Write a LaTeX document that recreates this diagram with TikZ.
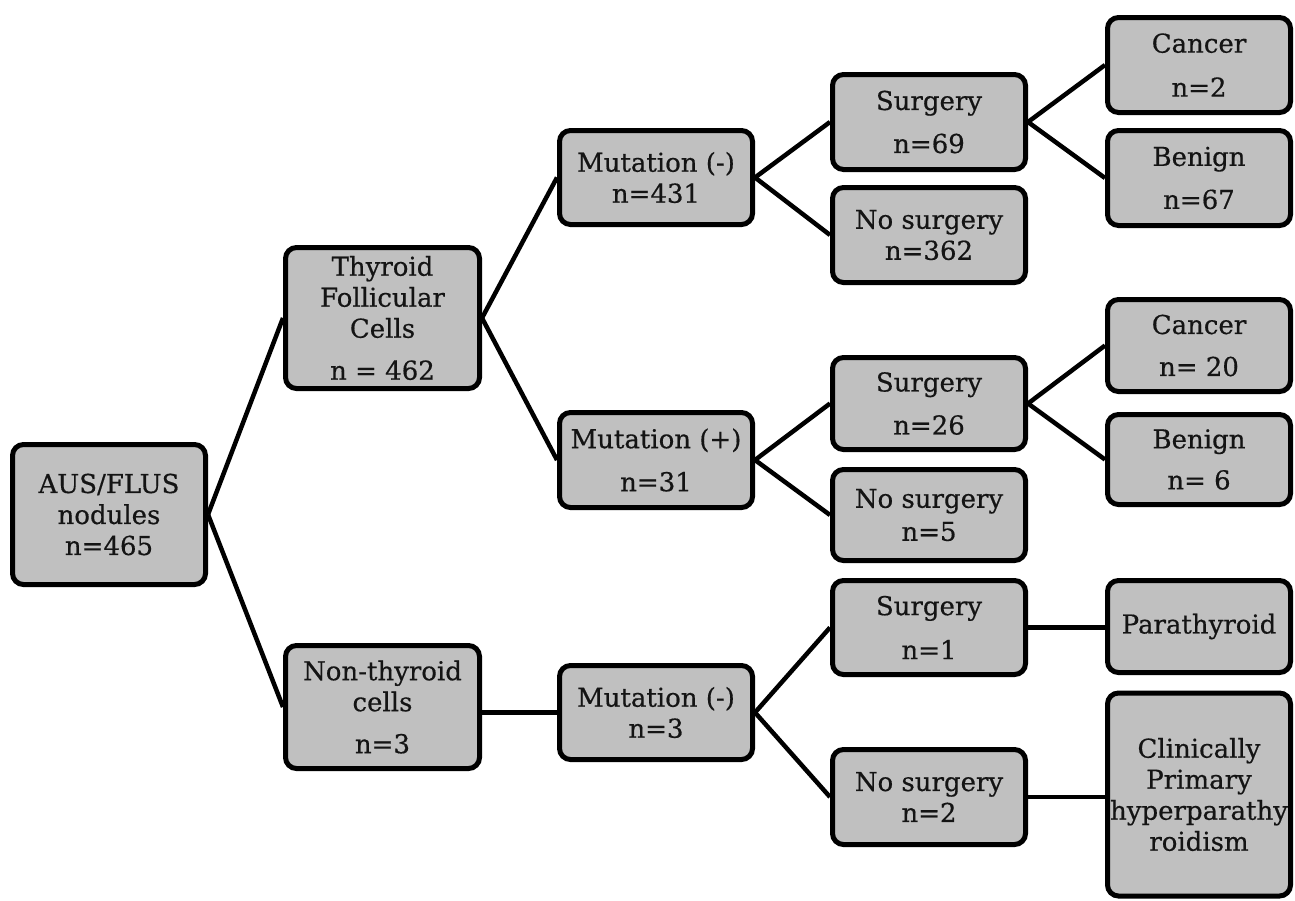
\documentclass[tikz,border=0pt]{standalone}
\usepackage{fontspec}
\setmainfont{DejaVu Serif}
\newfontfamily\boxfont{DejaVu Serif}[FakeBold=0.5]
\definecolor{boxgray}{RGB}{192,192,192}
\definecolor{txt}{RGB}{20,20,20}
\begin{document}
\begin{tikzpicture}[x=1pt,y=-1pt,
  box/.style={draw=black, fill=boxgray, line width=5pt, rounded corners=11pt,
    align=center, inner sep=1pt, text=txt,
    font=\boxfont\fontsize{26}{31}\selectfont},
  link/.style={line width=4.5pt, draw=black}]
\useasboundingbox (0,0) rectangle (1295,900);
% column 1
\node[box, minimum width=193pt, minimum height=140pt] (aus) at (109,514.5) {AUS/FLUS\\nodules\\n=465};
% column 2
\node[box, minimum width=194pt, minimum height=141pt] (th) at (382.5,318) {Thyroid\\Follicular\\Cells\\[11pt]n = 462};
\node[box, minimum width=194pt, minimum height=123pt] (nt) at (382.5,707) {Non-thyroid\\cells\\[11pt]n=3};
% column 3
\node[box, minimum width=193pt, minimum height=94pt] (m1) at (656,177.5) {Mutation (-)\\n=431};
\node[box, minimum width=193pt, minimum height=95pt] (m2) at (656,460) {Mutation (+)\\[12pt]n=31};
\node[box, minimum width=193pt, minimum height=94pt] (m3) at (656,712.5) {Mutation (-)\\n=3};
% column 4
\node[box, minimum width=193pt, minimum height=95pt] (s1) at (929,122) {Surgery\\[12pt]n=69};
\node[box, minimum width=193pt, minimum height=95pt] (ns1) at (929,235) {No surgery\\n=362};
\node[box, minimum width=193pt, minimum height=92pt] (s2) at (929,403.5) {Surgery\\[12pt]n=26};
\node[box, minimum width=193pt, minimum height=91pt] (ns2) at (929,515) {No surgery\\[2pt]n=5};
\node[box, minimum width=193pt, minimum height=94pt] (s3) at (929,627.5) {Surgery\\[13pt]n=1};
\node[box, minimum width=193pt, minimum height=95pt] (ns3) at (929,797) {No surgery\\n=2};
% column 5
\node[box, minimum width=183pt, minimum height=95pt] (c1) at (1199,65) {Cancer\\[13pt]n=2};
\node[box, minimum width=183pt, minimum height=95pt] (b1) at (1199,178) {Benign\\[12pt]n=67};
\node[box, minimum width=183pt, minimum height=92pt] (c2) at (1199,345.5) {Cancer\\[11pt]n= 20};
\node[box, minimum width=183pt, minimum height=90pt] (b2) at (1199,459.5) {Benign\\[10pt]n= 6};
\node[box, minimum width=183pt, minimum height=92pt] (p) at (1199,626.5) {Parathyroid};
\node[box, minimum width=183pt, minimum height=203pt] (cl) at (1199,794.5) {Clinically\\Primary\\hyperparathy\\roidism};
% connectors
\draw[link] (aus.east) -- (th.west);
\draw[link] (aus.east) -- (nt.west);
\draw[link] (th.east) -- (m1.west);
\draw[link] (th.east) -- (m2.west);
\draw[link] (m3.west -| nt.east) -- (m3.west);
\draw[link] (m1.east) -- (s1.west);
\draw[link] (m1.east) -- (ns1.west);
\draw[link] (m2.east) -- (s2.west);
\draw[link] (m2.east) -- (ns2.west);
\draw[link] (m3.east) -- (s3.west);
\draw[link] (m3.east) -- (ns3.west);
\draw[link] (s1.east) -- (c1.west);
\draw[link] (s1.east) -- (b1.west);
\draw[link] (s2.east) -- (c2.west);
\draw[link] (s2.east) -- (b2.west);
\draw[link] (s3.east) -- (s3.east -| p.west);
\draw[link] (ns3.east) -- (ns3.east -| cl.west);
\end{tikzpicture}
\end{document}
